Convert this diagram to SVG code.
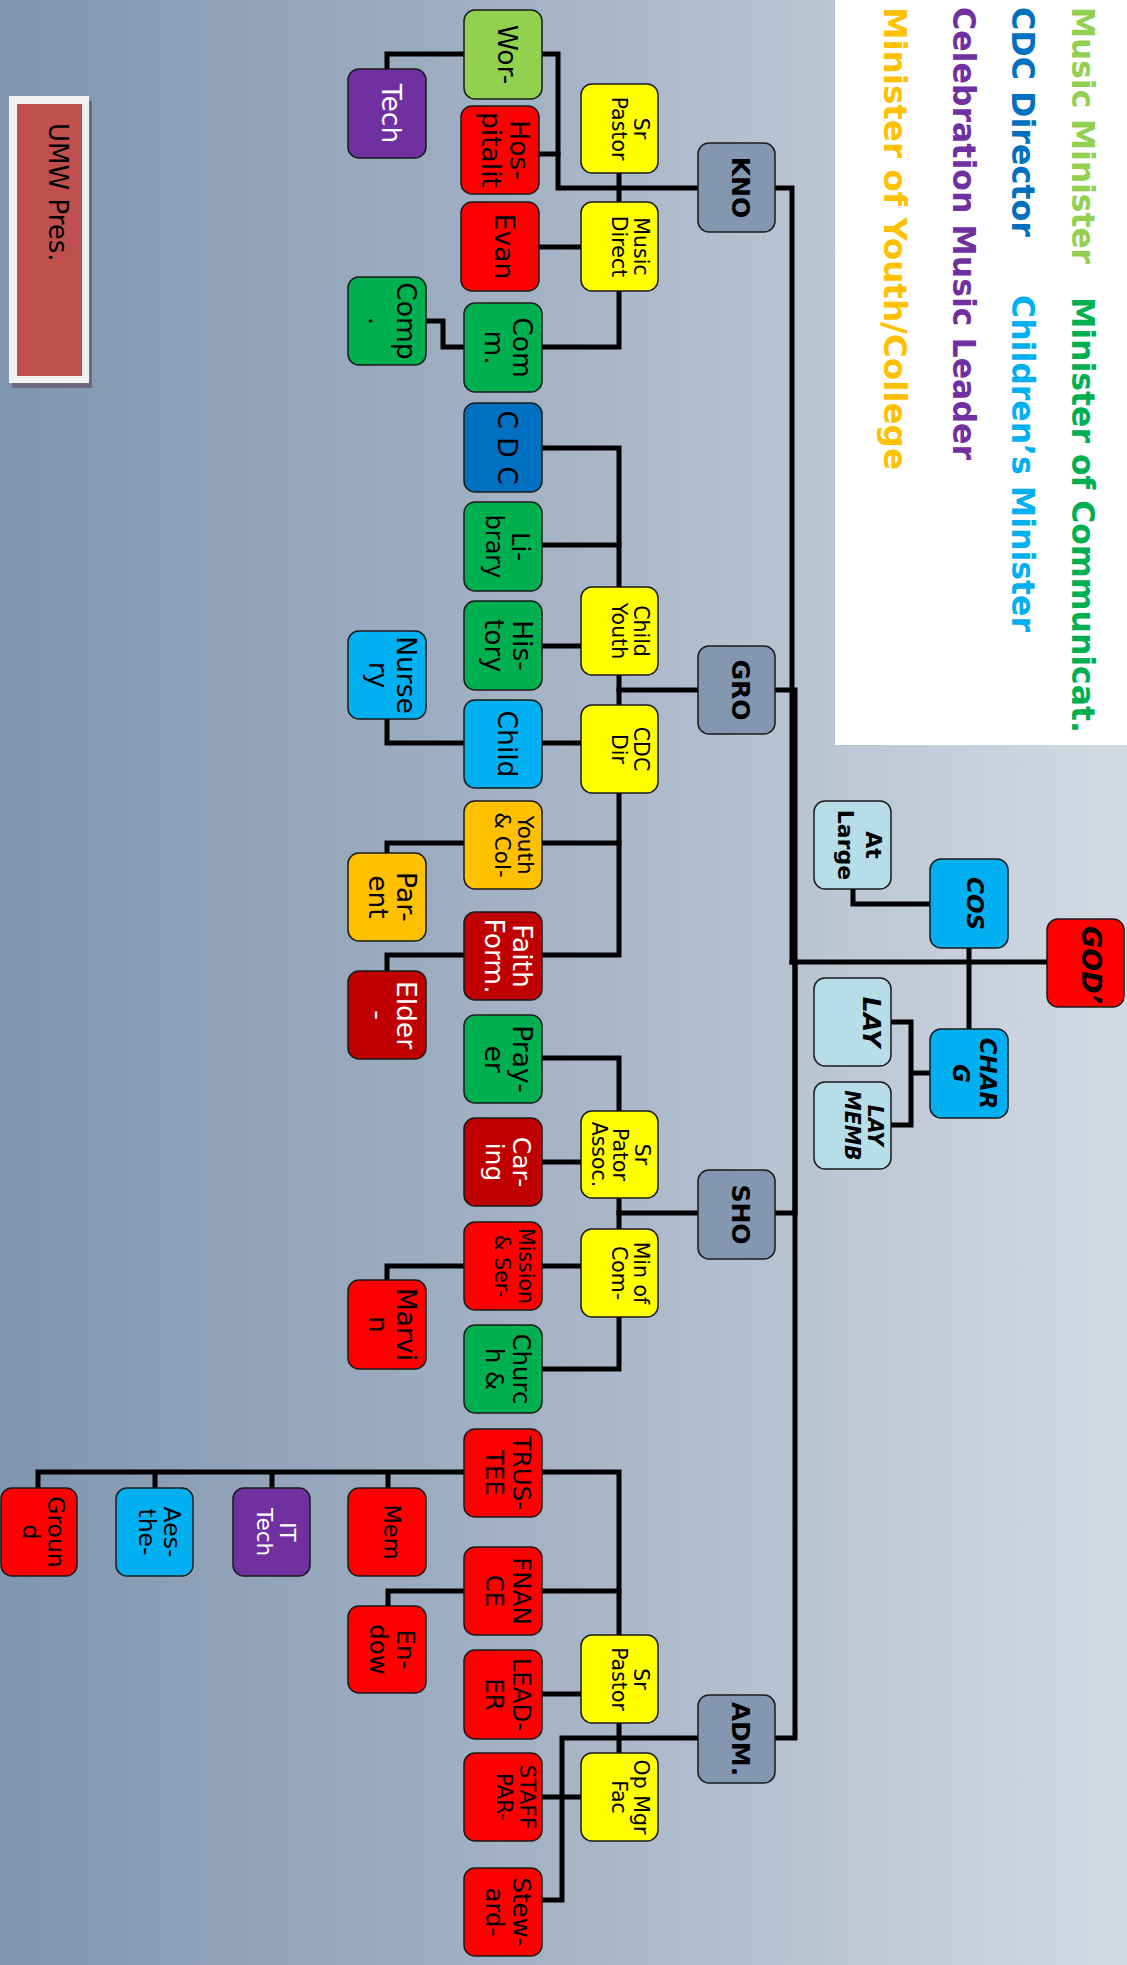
<svg xmlns="http://www.w3.org/2000/svg" width="1127" height="1965" viewBox="0 0 1127 1965">
<defs>
<linearGradient id="bg" x1="0" y1="0" x2="1" y2="0">
<stop offset="0" stop-color="#7F96AF"/>
<stop offset="0.5" stop-color="#A6B4C6"/>
<stop offset="1" stop-color="#D3DAE4"/>
</linearGradient>
</defs>
<style>
.b{stroke:#1a1a1a;stroke-width:1.5}
.t{font-family:"DejaVu Sans","Liberation Sans",sans-serif;font-size:26.5px;text-anchor:middle;fill:#000}
.w{fill:#fff}
.y{font-size:20.5px}
.g{font-weight:bold;font-size:25px}
.bi{font-weight:bold;font-style:italic}
.c{fill:none;stroke:#000;stroke-width:5;stroke-linejoin:miter;stroke-linecap:square}
.lg{font-family:"DejaVu Sans","Liberation Sans",sans-serif;font-size:32px;font-weight:bold}
.red{fill:#FF0000}.dred{fill:#C00000}.grn{fill:#00B050}.lgrn{fill:#92D050}.pur{fill:#7030A0}
.yel{fill:#FFFF00}.gry{fill:#8497B0}.dblu{fill:#0070C0}.blu{fill:#00B0F0}.org{fill:#FFC000}.lb{fill:#B7DEE8}
</style>
<rect x="0" y="0" width="1127" height="1965" fill="url(#bg)"/>

<g id="legend">
<rect x="835" y="0" width="292" height="745" fill="#FFFFFF"/>
<text class="lg" fill="#92D050" transform="translate(1072,7) rotate(90)" textLength="257" lengthAdjust="spacingAndGlyphs">Music Minister</text>
<text class="lg" fill="#00B050" transform="translate(1072,297) rotate(90)" textLength="436" lengthAdjust="spacingAndGlyphs">Minister of Communicat.</text>
<text class="lg" fill="#0070C0" transform="translate(1012,7) rotate(90)" textLength="230" lengthAdjust="spacingAndGlyphs">CDC Director</text>
<text class="lg" fill="#00B0F0" transform="translate(1012,295) rotate(90)" textLength="337" lengthAdjust="spacingAndGlyphs">Children’s Minister</text>
<text class="lg" fill="#7030A0" transform="translate(953,7) rotate(90)" textLength="453" lengthAdjust="spacingAndGlyphs">Celebration Music Leader</text>
<text class="lg" fill="#FFC000" transform="translate(884,7) rotate(90)" textLength="463" lengthAdjust="spacingAndGlyphs">Minister of Youth/College</text>
</g>

<g id="umw">
<rect x="12" y="101" width="80" height="287" fill="#6E6A7E"/>
<rect x="9" y="96" width="80" height="287" fill="#F2F2F2"/>
<rect x="17" y="104" width="65" height="272" fill="#C0504D"/>
<text class="t" style="text-anchor:start;font-size:26px" transform="translate(49,123) rotate(90)">UMW Pres.</text>
</g>

<g id="connectors">
<path class="c" d="M387,69 V54 H464"/>
<path class="c" d="M542,54 H558 V188 H698"/>
<path class="c" d="M536,154 H558"/>
<path class="c" d="M619,173 V202"/>
<path class="c" d="M538,247 H581"/>
<path class="c" d="M619,291 V347 H542"/>
<path class="c" d="M464,347 H443 V321 H426"/>
<path class="c" d="M775,188 H792 V962"/>
<path class="c" d="M542,448 H619 V587"/>
<path class="c" d="M542,545 H619"/>
<path class="c" d="M542,646 H581"/>
<path class="c" d="M619,675 V705"/>
<path class="c" d="M698,690 H619"/>
<path class="c" d="M775,690 H795 V962"/>
<path class="c" d="M542,743 H581"/>
<path class="c" d="M387,719 V743 H464"/>
<path class="c" d="M619,793 V955 H542"/>
<path class="c" d="M542,843 H619"/>
<path class="c" d="M464,843 H387 V853"/>
<path class="c" d="M464,955 H387 V971"/>
<path class="c" d="M542,1058 H619 V1111"/>
<path class="c" d="M542,1162 H581"/>
<path class="c" d="M619,1198 V1229"/>
<path class="c" d="M698,1213 H619"/>
<path class="c" d="M775,1213 H795 V962"/>
<path class="c" d="M542,1266 H581"/>
<path class="c" d="M464,1266 H387 V1280"/>
<path class="c" d="M619,1317 V1369 H542"/>
<path class="c" d="M542,1472 H619 V1635"/>
<path class="c" d="M38,1488 V1472 H464 M155,1472 V1488 M272,1472 V1488 M388,1472 V1488"/>
<path class="c" d="M542,1591 H619"/>
<path class="c" d="M464,1591 H388 V1606"/>
<path class="c" d="M542,1694 H581"/>
<path class="c" d="M619,1723 V1753"/>
<path class="c" d="M698,1738 H562 V1900 H542"/>
<path class="c" d="M542,1797 H581"/>
<path class="c" d="M775,1738 H795 V962"/>
<path class="c" d="M1047,962 H792"/>
<path class="c" d="M853,889 V904 H930"/>
<path class="c" d="M969,948 V1029"/>
<path class="c" d="M891,1022 H911 V1125 H891 M911,1073 H930"/>
</g>

<g id="n-wor"><rect class="b lgrn" x="464" y="10" width="78" height="89" rx="11"/><text class="t" transform="translate(503,54.5) rotate(90)"><tspan x="0" y="5">Wor-</tspan></text></g>
<g id="n-tech"><rect class="b pur" x="348" y="69" width="78" height="89" rx="11"/><text class="t w" transform="translate(387,113.5) rotate(90)"><tspan x="0" y="5">Tech</tspan></text></g>
<g id="n-hosp"><rect class="b red" x="461" y="106" width="78" height="88" rx="11"/><text class="t" transform="translate(500,150) rotate(90)"><tspan x="0" y="-10">Hos-</tspan><tspan x="0" y="18">pitalit</tspan></text></g>
<g id="n-srpastor1"><rect class="b yel" x="581" y="84" width="77" height="89" rx="11"/><text class="t y" transform="translate(619.5,128.5) rotate(90)"><tspan x="0" y="-14.5">Sr</tspan><tspan x="0" y="7.5">Pastor</tspan></text></g>
<g id="n-kno"><rect class="b gry" x="698" y="143" width="77" height="89" rx="11"/><text class="t g" transform="translate(736.5,187.5) rotate(90)"><tspan x="0" y="4.5">KNO</tspan></text></g>
<g id="n-music"><rect class="b yel" x="581" y="202" width="77" height="89" rx="11"/><text class="t y" transform="translate(619.5,246.5) rotate(90)"><tspan x="0" y="-14.5">Music</tspan><tspan x="0" y="7.5">Direct</tspan></text></g>
<g id="n-evan"><rect class="b red" x="461" y="202" width="78" height="89" rx="11"/><text class="t" transform="translate(500,246.5) rotate(90)"><tspan x="0" y="5">Evan</tspan></text></g>
<g id="n-comp"><rect class="b grn" x="348" y="277" width="78" height="88" rx="11"/><text class="t" transform="translate(387,321) rotate(90)"><tspan x="0" y="-10">Comp</tspan><tspan x="0" y="18">.</tspan></text></g>
<g id="n-comm"><rect class="b grn" x="464" y="303" width="78" height="89" rx="11"/><text class="t" transform="translate(503,347.5) rotate(90)"><tspan x="0" y="-10">Com</tspan><tspan x="0" y="18">m.</tspan></text></g>
<g id="n-cdc"><rect class="b dblu" x="464" y="403" width="78" height="89" rx="11"/><text class="t" transform="translate(503,447.5) rotate(90)"><tspan x="0" y="5">C D C</tspan></text></g>
<g id="n-library"><rect class="b grn" x="464" y="502" width="78" height="89" rx="11"/><text class="t" style="font-size:24px" transform="translate(503,546.5) rotate(90)"><tspan x="0" y="-9">Li-</tspan><tspan x="0" y="17">brary</tspan></text></g>
<g id="n-history"><rect class="b grn" x="464" y="601" width="78" height="89" rx="11"/><text class="t" transform="translate(503,645.5) rotate(90)"><tspan x="0" y="-10">His-</tspan><tspan x="0" y="18">tory</tspan></text></g>
<g id="n-nursery"><rect class="b blu" x="348" y="631" width="78" height="88" rx="11"/><text class="t" transform="translate(387,675) rotate(90)"><tspan x="0" y="-10">Nurse</tspan><tspan x="0" y="18">ry</tspan></text></g>
<g id="n-child"><rect class="b blu" x="464" y="700" width="78" height="88" rx="11"/><text class="t" transform="translate(503,744) rotate(90)"><tspan x="0" y="5">Child</tspan></text></g>
<g id="n-childyouth"><rect class="b yel" x="581" y="587" width="77" height="88" rx="11"/><text class="t y" transform="translate(619.5,631) rotate(90)"><tspan x="0" y="-14.5">Child</tspan><tspan x="0" y="7.5">Youth</tspan></text></g>
<g id="n-gro"><rect class="b gry" x="698" y="646" width="77" height="88" rx="11"/><text class="t g" transform="translate(736.5,690) rotate(90)"><tspan x="0" y="4.5">GRO</tspan></text></g>
<g id="n-cdcdir"><rect class="b yel" x="581" y="705" width="77" height="88" rx="11"/><text class="t y" transform="translate(619.5,749) rotate(90)"><tspan x="0" y="-14.5">CDC</tspan><tspan x="0" y="7.5">Dir</tspan></text></g>
<g id="n-youthcol"><rect class="b org" x="464" y="801" width="78" height="88" rx="11"/><text class="t" style="font-size:21.5px" transform="translate(503,845) rotate(90)"><tspan x="0" y="-15">Youth</tspan><tspan x="0" y="8">&amp; Col-</tspan></text></g>
<g id="n-parent"><rect class="b org" x="348" y="853" width="78" height="88" rx="11"/><text class="t" transform="translate(387,897) rotate(90)"><tspan x="0" y="-10">Par-</tspan><tspan x="0" y="18">ent</tspan></text></g>
<g id="n-faith"><rect class="b dred" x="464" y="912" width="78" height="88" rx="11"/><text class="t w" transform="translate(503,956) rotate(90)"><tspan x="0" y="-10">Faith</tspan><tspan x="0" y="18">Form.</tspan></text></g>
<g id="n-elder"><rect class="b dred" x="348" y="971" width="78" height="88" rx="11"/><text class="t w" transform="translate(387,1015) rotate(90)"><tspan x="0" y="-10">Elder</tspan><tspan x="0" y="18">-</tspan></text></g>
<g id="n-prayer"><rect class="b grn" x="464" y="1015" width="78" height="88" rx="11"/><text class="t" transform="translate(503,1059) rotate(90)"><tspan x="0" y="-10">Pray-</tspan><tspan x="0" y="18">er</tspan></text></g>
<g id="n-srpator"><rect class="b yel" x="581" y="1111" width="77" height="87" rx="11"/><text class="t y" transform="translate(619.5,1154.5) rotate(90)"><tspan x="0" y="-15">Sr</tspan><tspan x="0" y="6.5">Pator</tspan><tspan x="0" y="27.5">Assoc.</tspan></text></g>
<g id="n-caring"><rect class="b dred" x="464" y="1118" width="78" height="88" rx="11"/><text class="t w" style="font-size:25px" transform="translate(503,1162) rotate(90)"><tspan x="0" y="-10">Car-</tspan><tspan x="0" y="17">ing</tspan></text></g>
<g id="n-sho"><rect class="b gry" x="698" y="1170" width="77" height="89" rx="11"/><text class="t g" transform="translate(736.5,1214.5) rotate(90)"><tspan x="0" y="4.5">SHO</tspan></text></g>
<g id="n-minofcom"><rect class="b yel" x="581" y="1229" width="77" height="88" rx="11"/><text class="t y" transform="translate(619.5,1273) rotate(90)"><tspan x="0" y="-14.5">Min of</tspan><tspan x="0" y="7.5">Com-</tspan></text></g>
<g id="n-mission"><rect class="b red" x="464" y="1222" width="78" height="88" rx="11"/><text class="t y" transform="translate(503,1266) rotate(90)"><tspan x="0" y="-16">Mission</tspan><tspan x="0" y="8">&amp; Ser-</tspan></text></g>
<g id="n-marvin"><rect class="b red" x="348" y="1280" width="78" height="89" rx="11"/><text class="t" transform="translate(387,1324.5) rotate(90)"><tspan x="0" y="-10">Marvi</tspan><tspan x="0" y="18">n</tspan></text></g>
<g id="n-church"><rect class="b grn" x="464" y="1325" width="78" height="88" rx="11"/><text class="t" style="font-size:24.5px" transform="translate(503,1369) rotate(90)"><tspan x="0" y="-10">Churc</tspan><tspan x="0" y="17">h &amp;</tspan></text></g>
<g id="n-trustee"><rect class="b red" x="464" y="1429" width="78" height="88" rx="11"/><text class="t" style="font-size:24.5px" transform="translate(503,1473) rotate(90)"><tspan x="0" y="-10">TRUS-</tspan><tspan x="0" y="17">TEE</tspan></text></g>
<g id="n-mem"><rect class="b red" x="348" y="1488" width="78" height="88" rx="11"/><text class="t" style="font-size:22.5px" transform="translate(387,1532) rotate(90)"><tspan x="0" y="3">Mem</tspan></text></g>
<g id="n-ittech"><rect class="b pur" x="233" y="1488" width="77" height="88" rx="11"/><text class="t w" style="font-size:21.5px" transform="translate(271.5,1532) rotate(90)"><tspan x="0" y="-8">IT</tspan><tspan x="0" y="15">Tech</tspan></text></g>
<g id="n-aes"><rect class="b blu" x="116" y="1488" width="77" height="88" rx="11"/><text class="t" style="font-size:23.5px" transform="translate(154.5,1532) rotate(90)"><tspan x="0" y="-9">Aes-</tspan><tspan x="0" y="16">the-</tspan></text></g>
<g id="n-ground"><rect class="b red" x="1" y="1488" width="76" height="88" rx="11"/><text class="t" style="font-size:23.5px" transform="translate(39,1532) rotate(90)"><tspan x="0" y="-9">Groun</tspan><tspan x="0" y="16">d</tspan></text></g>
<g id="n-finance"><rect class="b red" x="464" y="1547" width="78" height="88" rx="11"/><text class="t" style="font-size:24.5px" transform="translate(503,1591) rotate(90)"><tspan x="0" y="-10">FNAN</tspan><tspan x="0" y="17">CE</tspan></text></g>
<g id="n-endow"><rect class="b red" x="348" y="1606" width="78" height="87" rx="11"/><text class="t" style="font-size:24.5px" transform="translate(387,1649.5) rotate(90)"><tspan x="0" y="-10">En-</tspan><tspan x="0" y="17">dow</tspan></text></g>
<g id="n-leader"><rect class="b red" x="464" y="1650" width="78" height="89" rx="11"/><text class="t" style="font-size:24.5px" transform="translate(503,1694.5) rotate(90)"><tspan x="0" y="-10">LEAD-</tspan><tspan x="0" y="17">ER</tspan></text></g>
<g id="n-srpastor2"><rect class="b yel" x="581" y="1635" width="77" height="88" rx="11"/><text class="t y" transform="translate(619.5,1679) rotate(90)"><tspan x="0" y="-14.5">Sr</tspan><tspan x="0" y="7.5">Pastor</tspan></text></g>
<g id="n-adm"><rect class="b gry" x="698" y="1695" width="77" height="88" rx="11"/><text class="t g" transform="translate(736.5,1739) rotate(90)"><tspan x="0" y="4.5">ADM.</tspan></text></g>
<g id="n-staff"><rect class="b red" x="464" y="1753" width="78" height="88" rx="11"/><text class="t" style="font-size:21.5px" transform="translate(503,1797) rotate(90)"><tspan x="0" y="-17">STAFF</tspan><tspan x="0" y="6">PAR-</tspan></text></g>
<g id="n-opmgr"><rect class="b yel" x="581" y="1753" width="77" height="88" rx="11"/><text class="t y" transform="translate(619.5,1797) rotate(90)"><tspan x="0" y="-14.5">Op Mgr</tspan><tspan x="0" y="7.5">Fac</tspan></text></g>
<g id="n-steward"><rect class="b red" x="464" y="1868" width="78" height="88" rx="11"/><text class="t" style="font-size:24.5px" transform="translate(503,1912) rotate(90)"><tspan x="0" y="-10">Stew-</tspan><tspan x="0" y="17">ard-</tspan></text></g>
<g id="n-atlarge"><rect class="b lb" x="814" y="801" width="77" height="88" rx="11"/><text class="t g" style="font-size:22px" transform="translate(852.5,845) rotate(90)"><tspan x="0" y="-13.5">At</tspan><tspan x="0" y="14.5">Large</tspan></text></g>
<g id="n-cos"><rect class="b blu" x="930" y="859" width="78" height="89" rx="11"/><text class="t bi" style="font-size:23px" transform="translate(969,903.5) rotate(90)"><tspan x="0" y="2">COS</tspan></text></g>
<g id="n-god"><rect class="b red" x="1047" y="919" width="77" height="88" rx="11"/><text class="t bi" style="font-size:27px" transform="translate(1085.5,965) rotate(90)"><tspan x="0" y="3.5">GOD’</tspan></text></g>
<g id="n-lay"><rect class="b lb" x="814" y="978" width="77" height="88" rx="11"/><text class="t bi" style="font-size:25px" transform="translate(852.5,1022) rotate(90)"><tspan x="0" y="-10.5">LAY</tspan></text></g>
<g id="n-laymemb"><rect class="b lb" x="814" y="1082" width="77" height="87" rx="11"/><text class="t bi y" transform="translate(852.5,1125.5) rotate(90)"><tspan x="0" y="-15.5">LAY</tspan><tspan x="0" y="7.5">MEMB</tspan></text></g>
<g id="n-charg"><rect class="b blu" x="930" y="1029" width="78" height="89" rx="11"/><text class="t bi" style="font-size:23px" transform="translate(969,1073.5) rotate(90)"><tspan x="0" y="-11">CHAR</tspan><tspan x="0" y="16">G</tspan></text></g>
</svg>
